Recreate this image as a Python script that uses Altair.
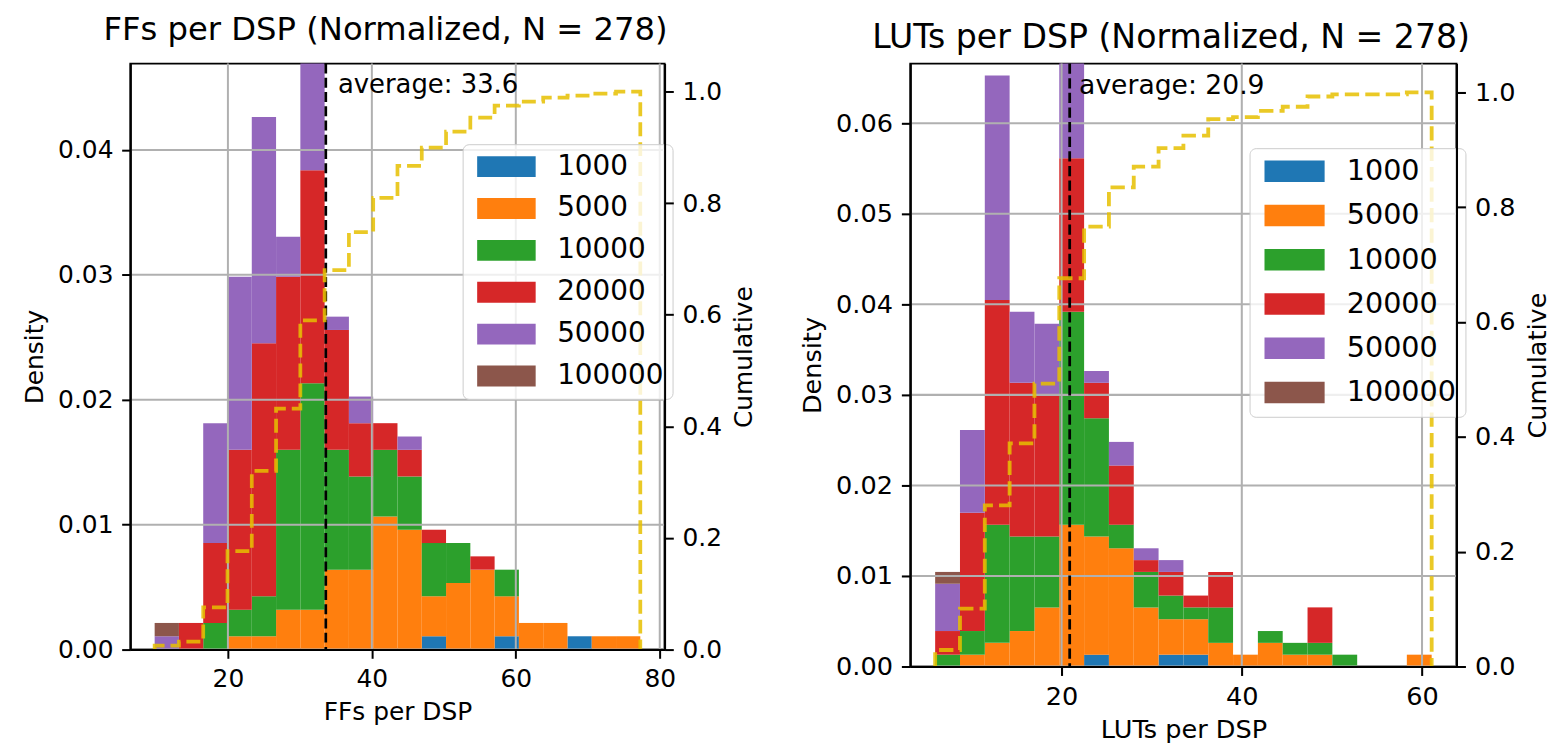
import altair as alt
import numpy as np
import pandas as pd

FONT = "DejaVu Sans"

CATEGORIES = ["1000", "5000", "10000", "20000", "50000", "100000"]
COLORS = ["#1f77b4", "#ff7f0e", "#2ca02c", "#d62728", "#9467bd", "#8c564b"]
N_DESIGNS = 278
N_BINS = 20
CUM_TICKS = [0.0, 0.2, 0.4, 0.6, 0.8, 1.0]

# ---- FFs per DSP (counts per bin, per design size) ----
FF_RANGE = [9.82, 77.3]
FF_AVG = 33.6
FF_1000 = [0, 0, 0, 0, 0, 0, 0, 0, 0, 0, 0, 1, 0, 0, 1, 0, 0, 1, 0, 0]
FF_5000 = [0, 0, 0, 1, 1, 3, 3, 6, 6, 10, 9, 3, 5, 6, 3, 2, 2, 0, 1, 1]
FF_10000 = [0, 0, 2, 2, 3, 12, 17, 9, 7, 5, 4, 4, 3, 0, 2, 0, 0, 0, 0, 0]
FF_20000 = [0, 2, 6, 12, 19, 13, 16, 9, 4, 2, 2, 1, 0, 1, 0, 0, 0, 0, 0, 0]
FF_50000 = [1, 0, 9, 13, 17, 3, 8, 1, 2, 0, 1, 0, 0, 0, 0, 0, 0, 0, 0, 0]
FF_100000 = [1, 0, 0, 0, 0, 0, 0, 0, 0, 0, 0, 0, 0, 0, 0, 0, 0, 0, 0, 0]
FF_XTICKS = [20, 40, 60, 80]
FF_YTICKS = [0.0, 0.01, 0.02, 0.03, 0.04]

# ---- LUTs per DSP ----
LUT_RANGE = [5.97, 61.07]
LUT_AVG = 20.9
LUT_1000 = [0, 0, 0, 0, 0, 0, 1, 0, 0, 1, 1, 0, 0, 0, 0, 0, 0, 0, 0, 0]
LUT_5000 = [0, 1, 2, 3, 5, 12, 10, 10, 5, 3, 3, 2, 1, 2, 1, 1, 0, 0, 0, 1]
LUT_10000 = [1, 2, 10, 8, 6, 18, 10, 2, 3, 2, 1, 3, 0, 1, 1, 1, 1, 0, 0, 0]
LUT_20000 = [2, 10, 19, 13, 12, 13, 3, 5, 1, 2, 1, 3, 0, 0, 0, 3, 0, 0, 0, 0]
LUT_50000 = [4, 7, 19, 6, 6, 8, 1, 2, 1, 1, 0, 0, 0, 0, 0, 0, 0, 0, 0, 0]
LUT_100000 = [1, 0, 0, 0, 0, 0, 0, 0, 0, 0, 0, 0, 0, 0, 0, 0, 0, 0, 0, 0]
LUT_XTICKS = [20, 40, 60]
LUT_YTICKS = [0.0, 0.01, 0.02, 0.03, 0.04, 0.05, 0.06]

SYMBOL = "M-2.8,-1H2.8V1H-2.8Z"


def panel(series, rng, avg, xticks, yticks, title, xlabel, width, height, s, legend_xy,
          title_offset):
    lo, hi = rng
    bw = (hi - lo) / N_BINS
    edges = [lo + i * bw for i in range(N_BINS + 1)]
    unit = 1.0 / (N_DESIGNS * bw)

    rows = []
    for k, (cat, counts) in enumerate(zip(CATEGORIES, series)):
        for b, c in enumerate(counts):
            if c:
                rows.append({"x": edges[b], "x_end": edges[b + 1],
                             "density": c * unit, "size": cat, "k": k})
    bars_df = pd.DataFrame(rows)

    totals = np.array(series).sum(axis=0)
    ymax = float(totals.max() * unit)
    cum = np.cumsum(totals) / N_DESIGNS
    pts = [(edges[0], 0.0)]
    for b in range(N_BINS):
        pts.append((edges[b], float(cum[b])))
        pts.append((edges[b + 1], float(cum[b])))
    pts.append((edges[-1], 0.0))
    cum_df = pd.DataFrame([{"x": x, "c": c, "k": i} for i, (x, c) in enumerate(pts)])

    margin = 0.05 * (hi - lo)
    xscale = alt.Scale(domain=[lo - margin, hi + margin], nice=False, zero=False)
    yscale = alt.Scale(domain=[0, ymax], nice=False, zero=True)

    common = dict(
        labelFont=FONT, labelFontSize=25 * s, labelColor="black",
        tickColor="black", tickWidth=2 * s, tickSize=8.75 * s, labelPadding=8.75 * s,
        domainColor="black", domainWidth=2 * s,
        titleFont=FONT, titleFontSize=25 * s, titleFontWeight="normal", titleColor="black",
        grid=False, zindex=1, labelFlush=False,
    )
    xaxis = alt.Axis(values=xticks, format="d", title=xlabel, titlePadding=8 * s, **common)
    yaxis = alt.Axis(values=yticks, format=".2f", title="Density", titlePadding=10 * s, **common)
    caxis = alt.Axis(values=CUM_TICKS, format=".1f", title="Cumulative", orient="right",
                     titlePadding=10 * s, titleAngle=270, titleBaseline="top", **common)

    X = alt.X("x:Q", scale=xscale, axis=xaxis)
    Y = alt.Y("density:Q", scale=yscale, axis=yaxis)

    legend = alt.Legend(
        title=None, orient="none", legendX=legend_xy[0], legendY=legend_xy[1],
        symbolType=SYMBOL, symbolSize=(21 * s) ** 2, symbolStrokeWidth=0, symbolOpacity=1,
        symbolOffset=21.5 * s, labelOffset=37 * s,
        labelFont=FONT, labelFontSize=28 * s, labelColor="black",
        padding=8.5 * s, rowPadding=14.1 * s,
        fillColor="rgba(255,255,255,0.8)", strokeColor="#cccccc", cornerRadius=6 * s,
    )

    bars = alt.Chart(bars_df).transform_stack(
        stack="density", groupby=["x"], as_=["y0", "y1"],
        sort=[alt.SortField("k", order="ascending")],
    ).mark_rect().encode(
        x=X, x2="x_end:Q",
        y=alt.Y("y0:Q", scale=yscale, axis=yaxis), y2="y1:Q",
        color=alt.Color("size:N", scale=alt.Scale(domain=CATEGORIES, range=COLORS), legend=legend),
    )
    grid_x = alt.Chart(pd.DataFrame({"x": xticks})).mark_rule(
        color="#b0b0b0", strokeWidth=2 * s).encode(x=X)
    grid_y = alt.Chart(pd.DataFrame({"density": yticks})).mark_rule(
        color="#b0b0b0", strokeWidth=2 * s).encode(y=Y)
    avg_rule = alt.Chart(pd.DataFrame({"x": [avg]})).mark_rule(
        color="black", strokeWidth=2.7 * s, strokeDash=[10 * s, 4.3 * s]).encode(x=X)
    avg_text = alt.Chart(pd.DataFrame({"x": [avg * 1.05], "density": [0.95 * ymax],
                                       "t": [f"average: {avg}"]})).mark_text(
        align="left", baseline="alphabetic", font=FONT, fontSize=26 * s, color="black"
    ).encode(x=X, y=Y, text="t:N")

    cum_line = alt.Chart(cum_df).mark_line(
        color="#e6c000", opacity=0.85, strokeWidth=3.75 * s, strokeDash=[14 * s, 6 * s]
    ).encode(
        x=X,
        y=alt.Y("c:Q", scale=alt.Scale(domain=[0, 1.05], nice=False), axis=caxis),
        order=alt.Order("k:Q"),
    )

    base = alt.layer(bars, grid_x, grid_y, avg_rule, avg_text)
    return alt.layer(base, cum_line).resolve_scale(y="independent").properties(
        width=width, height=height,
        title=alt.TitleParams(text=title, font=FONT, fontSize=32.4 * s, fontWeight="normal",
                              color="black", anchor="middle", baseline="alphabetic",
                              offset=title_offset, dx=-12 * s),
    )


left = panel([FF_1000, FF_5000, FF_10000, FF_20000, FF_50000, FF_100000], FF_RANGE, FF_AVG,
             FF_XTICKS, FF_YTICKS, f"FFs per DSP (Normalized, N = {N_DESIGNS})", "FFs per DSP",
             537, 589, 1.0, (334, 81), -10.4)
right = panel([LUT_1000, LUT_5000, LUT_10000, LUT_20000, LUT_50000, LUT_100000], LUT_RANGE,
              LUT_AVG, LUT_XTICKS, LUT_YTICKS, f"LUTs per DSP (Normalized, N = {N_DESIGNS})",
              "LUTs per DSP", 549, 606, 1.028, (341, 85), -19.0)

chart = alt.hconcat(left, right, spacing=247, bounds="flush").resolve_scale(
    color="independent"
).configure_view(
    stroke="black", strokeWidth=2
).properties(padding={"left": 13, "top": 3, "right": 0, "bottom": 0})

chart.save("out.html", embed_options={"renderer": "svg", "actions": False})
